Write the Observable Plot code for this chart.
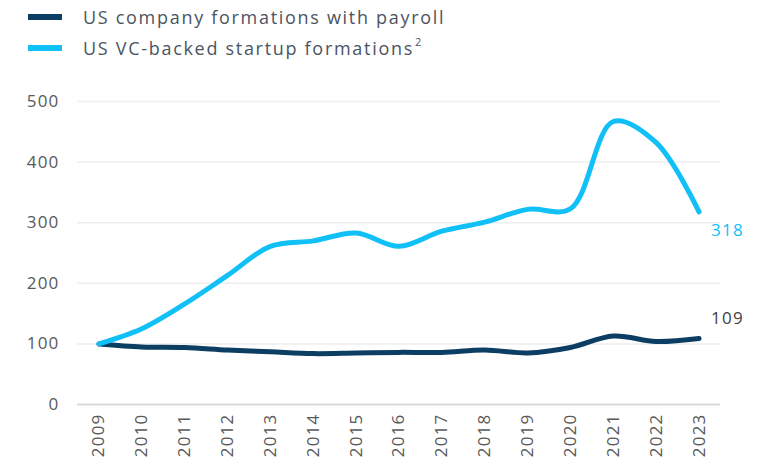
<!DOCTYPE html>
<html>
<head>
<meta charset="utf-8">
<script src="https://cdn.jsdelivr.net/npm/d3@7"></script>
<script src="https://cdn.jsdelivr.net/npm/@observablehq/plot@0.6"></script>
<style>
  body { margin: 0; background: #fff; font-family: "Open Sans", sans-serif; }
  #legend { height: 68px; position: relative; }
  .item { position: absolute; left: 28px; display: flex; align-items: center; font-size: 18px; color: #4a5562; letter-spacing: 1.7px; white-space: nowrap; }
  .sw { width: 34px; height: 6px; margin-right: 21px; }
  .sup { font-size: 11px; position: relative; top: -7px; letter-spacing: 0; margin-left: 1px; }
</style>
</head>
<body>
<div id="legend"></div>
<div id="chart"></div>
<script>
const years = [2009,2010,2011,2012,2013,2014,2015,2016,2017,2018,2019,2020,2021,2022,2023];
const payroll = [100,95,94,90,87,84,85,86,86,90,85,94,113,104,109];
const vcBacked = [100,125,166,213,261,270,283,261,286,301,322,323,467,432,318];
const seriesNames = ["US company formations with payroll", "US VC-backed startup formations"];
const colors = ["#0c3d63", "#10c0f6"];
const yTicks = [0,100,200,300,400,500];

const legend = document.getElementById("legend");
legend.innerHTML =
  `<div class="item" style="top:5px"><div class="sw" style="background:${colors[0]}"></div>${seriesNames[0]}</div>` +
  `<div class="item" style="top:36px"><div class="sw" style="background:${colors[1]}"></div>${seriesNames[1]}<span class="sup">2</span></div>`;

const data = [
  ...years.map((y,i) => ({year: String(y), value: payroll[i], series: seriesNames[0]})),
  ...years.map((y,i) => ({year: String(y), value: vcBacked[i], series: seriesNames[1]}))
];
const lastVC = [{year: "2023", value: vcBacked[14], label: String(vcBacked[14])}];
const lastPay = [{year: "2023", value: payroll[14], label: String(payroll[14])}];

const chart = Plot.plot({
  width: 784,
  height: 394,
  marginTop: 33,
  marginBottom: 58,
  marginLeft: 77,
  marginRight: 64,
  style: {fontFamily: "Open Sans, sans-serif", fontSize: "17px", color: "#595959", letterSpacing: "1.2px"},
  x: {type: "point", domain: years.map(String), padding: 0.5, round: false, label: null, tickSize: 0, tickRotate: -90, tickPadding: 9},
  y: {domain: [0, 500], ticks: yTicks, label: null, tickSize: 0, tickPadding: 18},
  color: {domain: seriesNames, range: colors},
  marks: [
    Plot.ruleY(yTicks.filter(d => d > 0), {stroke: "#eeeeee", strokeWidth: 1.5}),
    Plot.ruleY([0], {stroke: "#d9d9d9", strokeWidth: 2}),
    Plot.line(data, {x: "year", y: "value", z: "series", stroke: "series", strokeWidth: 5, curve: "catmull-rom", strokeLinecap: "round"}),
    Plot.text(lastVC, {x: "year", y: "value", text: "label", fill: colors[1], dx: 12, dy: 19, textAnchor: "start", fontSize: 17}),
    Plot.text(lastPay, {x: "year", y: "value", text: "label", fill: "#404040", dx: 12, dy: -20, textAnchor: "start", fontSize: 17})
  ]
});
document.getElementById("chart").appendChild(chart);
</script>
</body>
</html>
